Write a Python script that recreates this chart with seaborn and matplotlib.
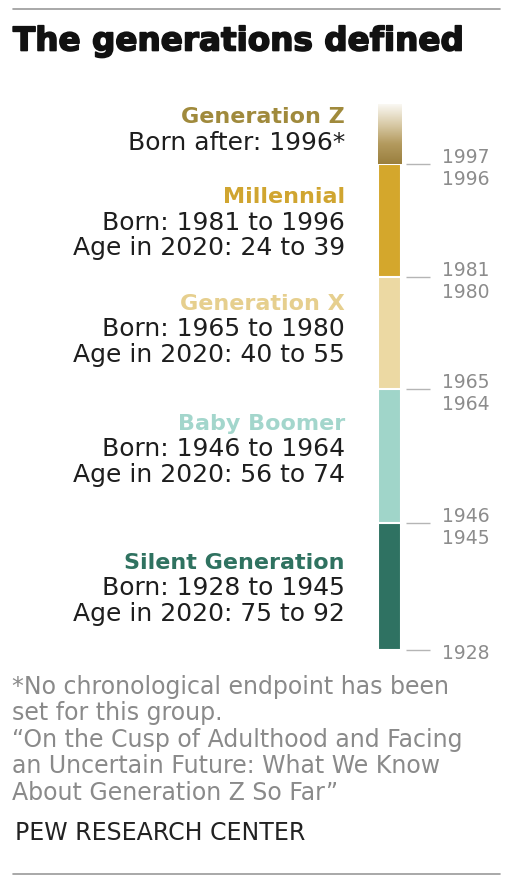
import matplotlib
matplotlib.use("Agg")
import matplotlib.pyplot as plt
import matplotlib.patheffects as pe
import numpy as np
import pandas as pd
import seaborn as sns
from matplotlib.colors import LinearSegmentedColormap

W, H = 507, 878

generations = ["Generation Z", "Millennial", "Generation X", "Baby Boomer", "Silent Generation"]
born_start = [1997, 1981, 1965, 1946, 1928]
born_end = [2005.5, 1997, 1981, 1965, 1946]
bar_colors = ["#a98f4c", "#d4a72c", "#ecd9a3", "#a0d5c9", "#2f7262"]
header_colors = ["#a08a3c", "#d0a530", "#e6cf8e", "#a3d6cc", "#2f7260"]
detail_lines = [
    ["Born after: 1996*"],
    ["Born: 1981 to 1996", "Age in 2020: 24 to 39"],
    ["Born: 1965 to 1980", "Age in 2020: 40 to 55"],
    ["Born: 1946 to 1964", "Age in 2020: 56 to 74"],
    ["Born: 1928 to 1945", "Age in 2020: 75 to 92"],
]
tick_years = [1928, 1946, 1965, 1981, 1997]
tick_labels = ["1928", "1946\n1945", "1965\n1964", "1981\n1980", "1997\n1996"]

FIRST_YEAR = 1928

footnote_lines = [
    "*No chronological endpoint has been",
    "set for this group.",
    "\u201cOn the Cusp of Adulthood and Facing",
    "an Uncertain Future: What We Know",
    "About Generation Z So Far\u201d",
]

sns.set_theme(style="white")
plt.rcParams["font.family"] = ["DejaVu Sans"]


def fx(px):
    return px / W


def fy(py):
    return 1 - py / H


df = pd.DataFrame({
    "gen": generations,
    "height": [e - FIRST_YEAR for e in born_end],
    "grp": ["all"] * len(generations),
})

fig = plt.figure(figsize=(W / 100, H / 100), dpi=100)
fig.patch.set_facecolor("white")

# bar axes: 1928 at y=651px, top of gradient at y=105px
ax = fig.add_axes([fx(378), fy(651), fx(28), (651 - 105) / H])
sns.barplot(
    data=df, x="grp", y="height", hue="gen", hue_order=generations,
    palette=dict(zip(generations, bar_colors)), dodge=False, width=0.8,
    errorbar=None, legend=False, bottom=FIRST_YEAR,
    edgecolor="white", linewidth=1.5, saturation=1, ax=ax,
)

# fade the Generation Z segment out towards the top
genz_patch = ax.patches[0]
fade = LinearSegmentedColormap.from_list("fade", ["#9a7f3e", "#b39a5e", "#d9cba8", "#faf8f3"])
grad = np.linspace(0, 1, 200).reshape(-1, 1)
img = ax.imshow(grad, extent=[-0.4, 0.4, born_start[0], born_end[0]], origin="lower",
                aspect="auto", cmap=fade, zorder=3)
img.set_clip_path(genz_patch)

ax.set_xlim(-0.4, 0.4 + 0.17)
ax.set_ylim(FIRST_YEAR, born_end[0])
ax.set_xlabel("")
ax.set_ylabel("")
ax.set_xticks([])
sns.despine(ax=ax, left=True, bottom=True, right=True, top=True)
ax.yaxis.tick_right()
ax.set_yticks(tick_years)
ax.set_yticklabels(tick_labels, linespacing=1.2)
ax.tick_params(axis="y", right=True, length=17, width=1, color="#b5b5b5",
               pad=9, labelsize=13.5, labelcolor="#8c8c8c")
ax.patch.set_alpha(0)

# generation labels
header_y = [117, 197, 304, 424, 563]
line_gap = 25.5
for name, col, lines, hy in zip(generations, header_colors, detail_lines, header_y):
    fig.text(fx(345), fy(hy), name, ha="right", va="center", fontsize=16,
             fontweight="bold", color=col)
    for i, line in enumerate(lines):
        fig.text(fx(345), fy(hy + line_gap * (i + 1)), line, ha="right", va="center",
                 fontsize=18, color="#1e1e1e")

# title and rules
fig.add_artist(plt.Line2D([fx(13), fx(500)], [fy(10), fy(10)], color="#9a9a9a", lw=1.2))
fig.text(fx(13), fy(42), "The generations defined", ha="left", va="center",
         fontsize=23.5, fontweight="bold", color="#111111",
         path_effects=[pe.withStroke(linewidth=1.2, foreground="#111111")])

for i, line in enumerate(footnote_lines):
    fig.text(fx(12), fy(687 + 26.5 * i), line, ha="left", va="center", fontsize=17,
             color="#8a8a8a")
fig.text(fx(15), fy(833), "PEW RESEARCH CENTER", ha="left", va="center",
         fontsize=17, color="#222222")
fig.add_artist(plt.Line2D([fx(13), fx(500)], [fy(875), fy(875)], color="#9a9a9a", lw=1.2))

fig.savefig("out.png", dpi=100, facecolor="white")
